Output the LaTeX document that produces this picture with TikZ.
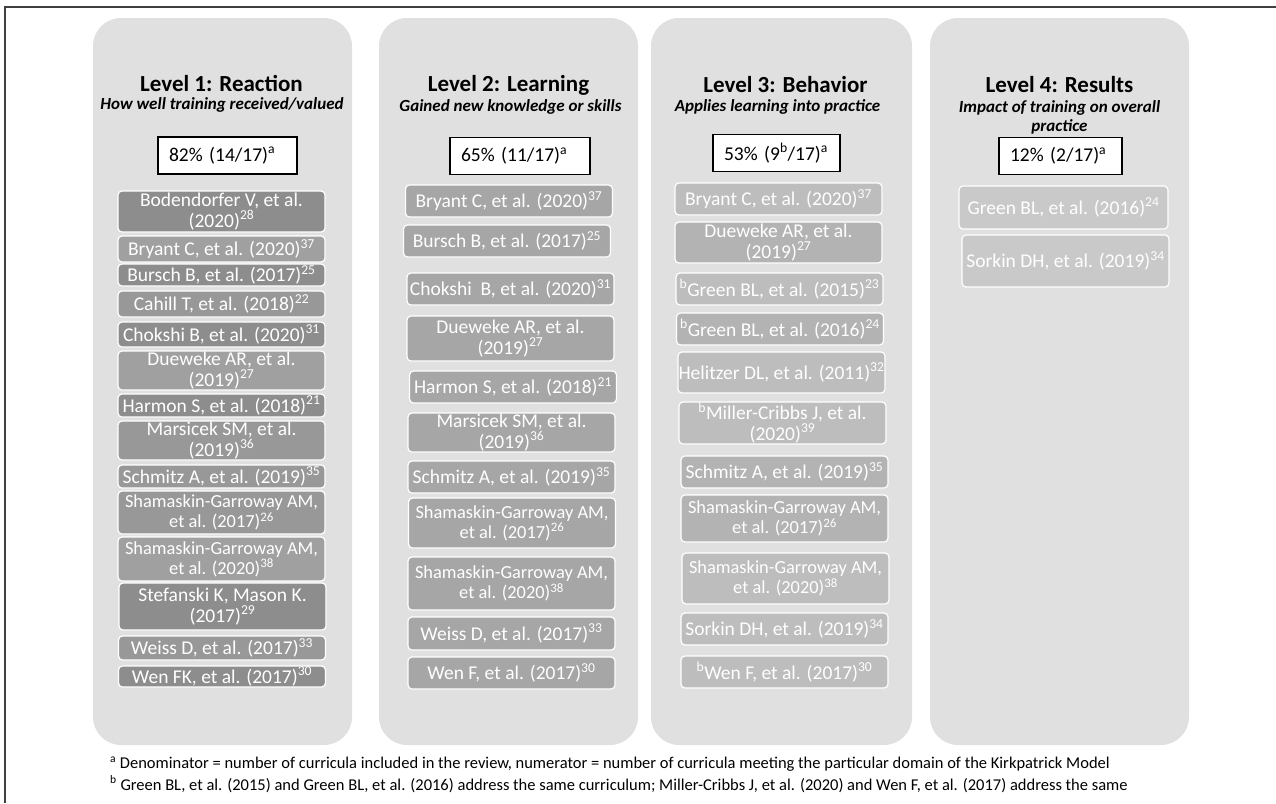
\documentclass[tikz,border=0pt]{standalone}
\usepackage{fontspec}
\setmainfont{Carlito}
\usepackage{tikz}

\definecolor{panelgray}{HTML}{E0E0E0}
\definecolor{rdark}{HTML}{8D8D8D}
\definecolor{rmid}{HTML}{989898}
\definecolor{rlight}{HTML}{A0A0A0}
\definecolor{lgray}{HTML}{A6A6A6}
\definecolor{bdark}{HTML}{B3B3B3}
\definecolor{blight}{HTML}{BDBDBD}
\definecolor{resgray}{HTML}{C9C9C9}
\definecolor{framegray}{HTML}{404040}

\begin{document}
\begin{tikzpicture}[x=1pt, y=-1pt,
    panel/.style={fill=panelgray, rounded corners=28pt, inner sep=0pt},
    lvl/.style={inner sep=0pt, font=\fontsize{23}{26}\selectfont\bfseries},
    lvlsub/.style={inner sep=0pt, align=center, font=\fontsize{17}{19}\selectfont\bfseries\itshape},
    pct/.style={draw=black, line width=1.2pt, fill=white, text width=#1, inner xsep=11pt, inner ysep=0pt, minimum height=37pt, align=left, font=\fontsize{19.5}{21}\selectfont},
    cite/.style={fill=#1, draw=white, line width=1.2pt, rounded corners=4pt, text=white, align=center, inner sep=0pt, minimum width=207pt, font=\fontsize{19.5}{20.5}\selectfont},
    longcite/.style={font=\fontsize{18.4}{20}\selectfont},
    fnote/.style={anchor=west, inner sep=0pt, font=\fontsize{16.5}{18}\selectfont},
]
\useasboundingbox (0,0) rectangle (1276,803);
\draw[framegray, line width=1.3pt] (5,803) -- (5,7) -- (1276,7);

% the four Kirkpatrick levels
\node[panel, minimum width=259pt, minimum height=727pt] (p1) at (222.5,381.5) {};
\node[panel, minimum width=259pt, minimum height=727pt] (p2) at (508.5,381.5) {};
\node[panel, minimum width=261pt, minimum height=727pt] (p3) at (781.5,381.5) {};
\node[panel, minimum width=259pt, minimum height=727pt] (p4) at (1059.5,381.5) {};

\node[lvl] (t1) at (221.5,83) {Level 1: Reaction};
\node[lvlsub] (s1) at (222,105) {How well training received/valued};
\node[lvl] (t2) at (508.5,85) {Level 2: Learning};
\node[lvlsub] (s2) at (510.5,107) {Gained new knowledge or skills};
\node[lvl] (t3) at (785.5,85) {Level 3: Behavior};
\node[lvlsub] (s3) at (777.5,107) {Applies learning into practice};
\node[lvl] (t4) at (1059.5,85) {Level 4: Results};
\node[lvlsub] (s4) at (1059.5,117.5) {Impact of training on overall\\practice};

\node[pct=117pt] (n1) at (227.5,155.5) {82\% (14/17)\textsuperscript{a}};
\node[pct=118pt] (n2) at (520,156) {65\% (11/17)\textsuperscript{a}};
\node[pct=105pt] (n3) at (776.5,153) {53\% (9\textsuperscript{b}/17)\textsuperscript{a}};
\node[pct=101pt] (n4) at (1060.5,156) {12\% (2/17)\textsuperscript{a}};

% level 1
\node[cite=rdark, minimum height=41pt] (r1) at (221.5,211.5) {Bodendorfer V, et al.\\(2020)\textsuperscript{28}};
\node[cite=rlight, minimum height=26pt] (r2) at (221.5,249) {Bryant C, et al. (2020)\textsuperscript{37}};
\node[cite=rdark, minimum height=22pt] (r3) at (221.5,275) {Bursch B, et al. (2017)\textsuperscript{25}};
\node[cite=rmid, minimum height=26pt] (r4) at (221.5,304) {Cahill T, et al. (2018)\textsuperscript{22}};
\node[cite=rdark, minimum height=25pt] (r5) at (221.5,334.5) {Chokshi B, et al. (2020)\textsuperscript{31}};
\node[cite=rlight, minimum height=39pt] (r6) at (221.5,370.5) {Dueweke AR, et al.\\(2019)\textsuperscript{27}};
\node[cite=rdark, minimum height=23pt] (r7) at (221.5,405.5) {Harmon S, et al. (2018)\textsuperscript{21}};
\node[cite=rmid, minimum height=39pt] (r8) at (221.5,440.5) {Marsicek SM, et al.\\(2019)\textsuperscript{36}};
\node[cite=rmid, minimum height=23pt] (r9) at (221.5,476.5) {Schmitz A, et al. (2019)\textsuperscript{35}};
\node[cite=rmid, longcite, minimum height=43pt] (r10) at (221.5,512.5) {Shamaskin-Garroway AM,\\et al. (2017)\textsuperscript{26}};
\node[cite=rlight, longcite, minimum height=44pt] (r11) at (221.5,559) {Shamaskin-Garroway AM,\\et al. (2020)\textsuperscript{38}};
\node[cite=rdark, minimum height=47pt] (r12) at (222.5,606.5) {Stefanski K, Mason K.\\(2017)\textsuperscript{29}};
\node[cite=rmid, minimum height=24pt] (r13) at (222,648) {Weiss D, et al. (2017)\textsuperscript{33}};
\node[cite=rdark, minimum height=21pt] (r14) at (222,676.5) {Wen FK, et al. (2017)\textsuperscript{30}};

% level 2
\node[cite=lgray, minimum height=32pt] (l1) at (509,201) {Bryant C, et al. (2020)\textsuperscript{37}};
\node[cite=lgray, minimum height=32pt] (l2) at (507,241) {Bursch B, et al. (2017)\textsuperscript{25}};
\node[cite=lgray, minimum height=32pt] (l3) at (510.5,289) {Chokshi\ \ B, et al. (2020)\textsuperscript{31}};
\node[cite=lgray, minimum height=45pt] (l4) at (510.5,338.5) {Dueweke AR, et al.\\(2019)\textsuperscript{27}};
\node[cite=lgray, minimum height=32pt] (l5) at (513,387) {Harmon S, et al. (2018)\textsuperscript{21}};
\node[cite=lgray, minimum height=39pt] (l6) at (511.5,432.5) {Marsicek SM, et al.\\(2019)\textsuperscript{36}};
\node[cite=lgray, minimum height=32pt] (l7) at (511.5,477) {Schmitz A, et al. (2019)\textsuperscript{35}};
\node[cite=lgray, longcite, minimum height=50pt] (l8) at (512,523) {Shamaskin-Garroway AM,\\et al. (2017)\textsuperscript{26}};
\node[cite=lgray, longcite, minimum height=53pt] (l9) at (511.5,583.5) {Shamaskin-Garroway AM,\\et al. (2020)\textsuperscript{38}};
\node[cite=lgray, minimum height=33pt] (l10) at (511.5,633.5) {Weiss D, et al. (2017)\textsuperscript{33}};
\node[cite=lgray, minimum height=32pt] (l11) at (511.5,673) {Wen F, et al. (2017)\textsuperscript{30}};

% level 3
\node[cite=blight, minimum height=32pt] (b1) at (778.5,199) {Bryant C, et al. (2020)\textsuperscript{37}};
\node[cite=bdark, minimum height=41pt] (b2) at (778.5,242.5) {Dueweke AR, et al.\\(2019)\textsuperscript{27}};
\node[cite=blight, minimum height=32pt] (b3) at (779.5,289) {\textsuperscript{b}Green BL, et al. (2015)\textsuperscript{23}};
\node[cite=bdark, minimum height=32pt] (b4) at (780,329) {\textsuperscript{b}Green BL, et al. (2016)\textsuperscript{24}};
\node[cite=blight, minimum height=41pt] (b5) at (781.5,372.5) {Helitzer DL, et al. (2011)\textsuperscript{32}};
\node[cite=blight, minimum height=42pt] (b6) at (782.5,423) {\textsuperscript{b}Miller-Cribbs J, et al.\\(2020)\textsuperscript{39}};
\node[cite=bdark, minimum height=32pt] (b7) at (784.5,472) {Schmitz A, et al. (2019)\textsuperscript{35}};
\node[cite=bdark, longcite, minimum height=47pt] (b8) at (784.5,518.5) {Shamaskin-Garroway AM,\\et al. (2017)\textsuperscript{26}};
\node[cite=blight, longcite, minimum height=51pt] (b9) at (785.5,578.5) {Shamaskin-Garroway AM,\\et al. (2020)\textsuperscript{38}};
\node[cite=blight, minimum height=32pt] (b10) at (784.5,629) {Sorkin DH, et al. (2019)\textsuperscript{34}};
\node[cite=blight, minimum height=32pt] (b11) at (784.5,672) {\textsuperscript{b}Wen F, et al. (2017)\textsuperscript{30}};

% level 4
\node[cite=resgray, minimum width=209pt, minimum height=43pt] (res1) at (1063.5,207.5) {Green BL, et al. (2016)\textsuperscript{24}};
\node[cite=resgray, minimum height=52pt] (res2) at (1065.5,261) {Sorkin DH, et al. (2019)\textsuperscript{34}};

% footnotes
\node[fnote] (fa) at (110,764) {\textsuperscript{a} Denominator = number of curricula included in the review, numerator = number of curricula meeting the particular domain of the Kirkpatrick Model};
\node[fnote] (fb) at (110,784) {\textsuperscript{b} Green BL, et al. (2015) and Green BL, et al. (2016) address the same curriculum; Miller-Cribbs J, et al. (2020) and Wen F, et al. (2017) address the same};
\end{tikzpicture}
\end{document}
